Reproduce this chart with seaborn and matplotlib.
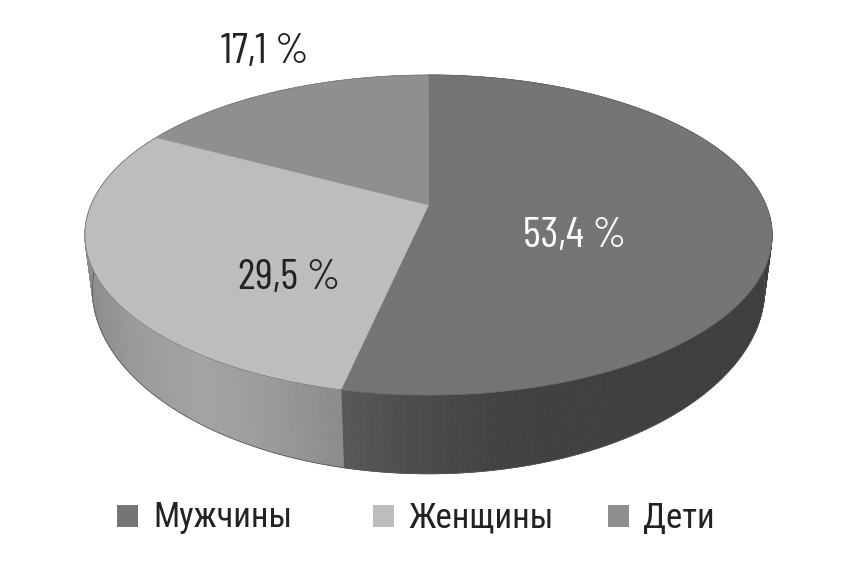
import numpy as np
import matplotlib
matplotlib.use("Agg")
import matplotlib.pyplot as plt
from matplotlib import font_manager as fm
from matplotlib.collections import PolyCollection
from matplotlib.patches import Rectangle
import seaborn as sns

categories = ["Мужчины", "Женщины", "Дети"]
shares = [53.4, 29.5, 17.1]
share_labels = ["53,4 %", "29,5 %", "17,1 %"]

top_colors = sns.color_palette(["#757575", "#bdbdbd", "#8f8f8f"])
label_colors = ["white", "#222222", "#222222"]
label_xy = [(575, 236), (289, 279), (265, 53)]
legend_box_x = [117, 373, 608]
legend_text_x = [153, 408, 643]

sns.set_theme(style="white")
names = {f.name for f in fm.fontManager.ttflist}


def pick(*cands):
    for c in cands:
        if c in names:
            return c
    return "Roboto"


num_font = pick("Barlow Condensed", "Roboto Condensed", "Archivo Narrow", "Asap Condensed")
txt_font = pick("Roboto Condensed", "PT Sans Narrow", "Archivo Narrow", "Oswald")
plt.rcParams["font.family"] = [txt_font, "Roboto", "DejaVu Sans"]

fig = plt.figure(figsize=(8.55, 5.75), dpi=100)
ax = fig.add_axes([0, 0, 1, 1])
ax.set_xlim(0, 855)
ax.set_ylim(575, 0)
ax.axis("off")

# Perspective projection of the unit disc (angle measured clockwise from top)
CX, CY, BX, BY, K = 428.5, 205.0, 337.5, 154.4, 0.1875
DEPTH, VANISH = 52.0, 2570.0


def project(theta):
    x, y = np.sin(theta), np.cos(theta)
    s = 1.0 / (1.0 + K * y)
    return CX + BX * x * s, CY - BY * y * s, s


def project_bottom(theta):
    X, Y, s = project(theta)
    d = DEPTH * s ** 2
    return X + (CX - X) * d / VANISH, Y + d


edges = np.deg2rad(np.concatenate([[0], np.cumsum(shares) / np.sum(shares) * 360]))


def wall_gray(i, X):
    if i == 0:
        return np.interp(X, [342, 400, 500, 770], [0x58, 0x4e, 0x42, 0x3e])
    return np.interp(X, [85, 130, 200, 270, 342], [0x8c, 0x9a, 0xa4, 0x9a, 0x8b])


# Side wall
for i in range(2):
    t = np.linspace(edges[i], edges[i + 1], 241)
    X0, Y0, _ = project(t)
    X1, Y1 = project_bottom(t)
    quads = [[(X0[j], Y0[j]), (X0[j + 1], Y0[j + 1]), (X1[j + 1], Y1[j + 1]), (X1[j], Y1[j])]
             for j in range(len(t) - 1)]
    g = wall_gray(i, 0.5 * (X0[:-1] + X0[1:])) / 255.0
    cols = np.column_stack([g, g, g, np.ones_like(g)])
    ax.add_collection(PolyCollection(quads, facecolors=cols, edgecolors=cols, linewidths=0.6, zorder=1))
    ax.plot(X1, Y1, color="#555555", lw=0.5, zorder=2)

# Top face
for i, c in enumerate(top_colors):
    t = np.linspace(edges[i], edges[i + 1], 241)
    X, Y, _ = project(t)
    ax.fill(np.r_[CX, X], np.r_[CY, Y], facecolor=c, edgecolor=c, lw=0.4, zorder=3)
    ax.plot(X, Y, color="#666666", lw=0.4, zorder=4)

for txt, (x, y), col in zip(share_labels, label_xy, label_colors):
    ax.text(x, y, txt, color=col, fontsize=31, ha="center", va="center", zorder=5,
            family=[num_font, "Roboto", "DejaVu Sans"])

for name, bx, tx, c in zip(categories, legend_box_x, legend_text_x, top_colors):
    ax.add_patch(Rectangle((bx, 505), 21, 22, facecolor=c, edgecolor="none"))
    ax.text(tx, 518, name, color="#222222", fontsize=25, ha="left", va="center")

fig.savefig("out.png", dpi=100, facecolor="white")
